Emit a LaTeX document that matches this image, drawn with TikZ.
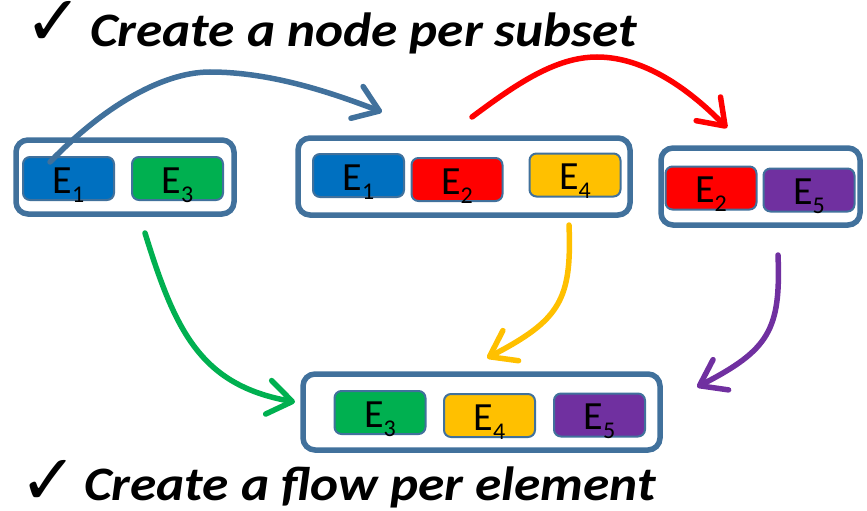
\documentclass[tikz,border=0pt]{standalone}
\usepackage{fontspec}
\setmainfont{Carlito}
\newfontfamily\symfont{DejaVu Sans}
\usetikzlibrary{arrows.meta}

\definecolor{frameblue}{RGB}{65,113,156}
\definecolor{cblue}{RGB}{0,112,192}
\definecolor{cgreen}{RGB}{0,176,80}
\definecolor{cred}{RGB}{255,0,0}
\definecolor{cyellow}{RGB}{255,192,0}
\definecolor{cpurple}{RGB}{112,48,160}

% element label: E with a lowered index
\newcommand{\elab}[1]{\fontsize{40}{40}\selectfont E\raisebox{-9pt}{\fontsize{24}{24}\selectfont #1}}
% wide bold italic heading text
\newcommand{\headtext}[1]{\scalebox{1.11}[1]{#1}}

\tikzset{
  group/.style={draw=frameblue, line width=5.5pt, rounded corners=12pt, fill=white,
                inner sep=0pt},
  elem/.style={draw=frameblue, line width=2pt, rounded corners=7pt,
               minimum width=91pt, minimum height=43pt, inner sep=0pt},
  lbl/.style={anchor=base, inner sep=0pt},
  flow/.style={line width=5.5pt, line cap=round,
               -{Straight Barb[length=24pt, width=34pt, round]}},
  headline/.style={anchor=base west, inner sep=0pt,
                   font=\fontsize{48}{48}\selectfont\bfseries\itshape},
  tick/.style={anchor=base west, inner sep=0pt, font=\symfont\fontsize{70}{70}\selectfont}
}

\begin{document}
\begin{tikzpicture}[x=1pt, y=-1pt]
\useasboundingbox (0,0) rectangle (867,511);

% headings
\node[tick] (t1) at (24,46) {\smash{✓}};
\node[headline] (h1) at (90,47) {\headtext{Create a node per subset}};
\node[tick] (t2) at (19,504) {\smash{✓}};
\node[headline] (h2) at (84,500) {\headtext{Create a flow per element}};

% subset containers
\node[group, minimum width=218pt, minimum height=74pt] (A) at (125,177) {};
\node[group, minimum width=332pt, minimum height=77pt] (B) at (464,176.5) {};
\node[group, minimum width=199pt, minimum height=77pt] (C) at (760.5,186.5) {};
\node[group, minimum width=357pt, minimum height=76pt] (D) at (481.5,412) {};

% elements
\node[elem, fill=cblue]   (a1) at (68.5,178.5) {};
\node[elem, fill=cgreen]  (a3) at (177.5,178.5) {};
\node[elem, fill=cblue]   (b1) at (358.5,175.5) {};
\node[elem, fill=cred]    (b2) at (457,179.5) {};
\node[elem, fill=cyellow] (b4) at (575,175) {};
\node[elem, fill=cred]    (c2) at (711,188) {};
\node[elem, fill=cpurple] (c5) at (809,190) {};
\node[elem, fill=cgreen]  (d3) at (380,412.5) {};
\node[elem, fill=cyellow] (d4) at (489.5,415.5) {};
\node[elem, fill=cpurple] (d5) at (599.5,415) {};

\foreach \n/\i in {a1/1, a3/3, b1/1, b2/2, b4/4, c2/2, c5/5, d3/3, d4/4, d5/5}
  \node[lbl] (\n-l) at ([yshift=-14.5pt]\n.center) {\elab{\i}};

% flow end points
\coordinate (blueS)  at (50,162);
\coordinate (blueT)  at (382,112);
\coordinate (redS)   at (472,117);
\coordinate (redT)   at (727,128);
\coordinate (greenS) at (145,233);
\coordinate (greenT) at (295,402);
\coordinate (yelS)   at (569,225);
\coordinate (yelT)   at (487,358);
\coordinate (purS)   at (778,255);
\coordinate (purT)   at (697,387);

% flows
\draw[flow, frameblue] (blueS) .. controls (100,110) and (160,72) .. (210,72)
                                .. controls (270,72) and (330,92) .. (blueT);
\draw[flow, cred] (redS) .. controls (515,85) and (555,57) .. (597,57)
                         .. controls (645,57) and (690,90) .. (redT);
\draw[flow, cgreen] (greenS) .. controls (175,330) and (200,385) .. (greenT);
\draw[flow, cyellow] (yelS) .. controls (572,300) and (560,320) .. (yelT);
\draw[flow, cpurple] (purS) .. controls (781,330) and (769,350) .. (purT);
\end{tikzpicture}
\end{document}
